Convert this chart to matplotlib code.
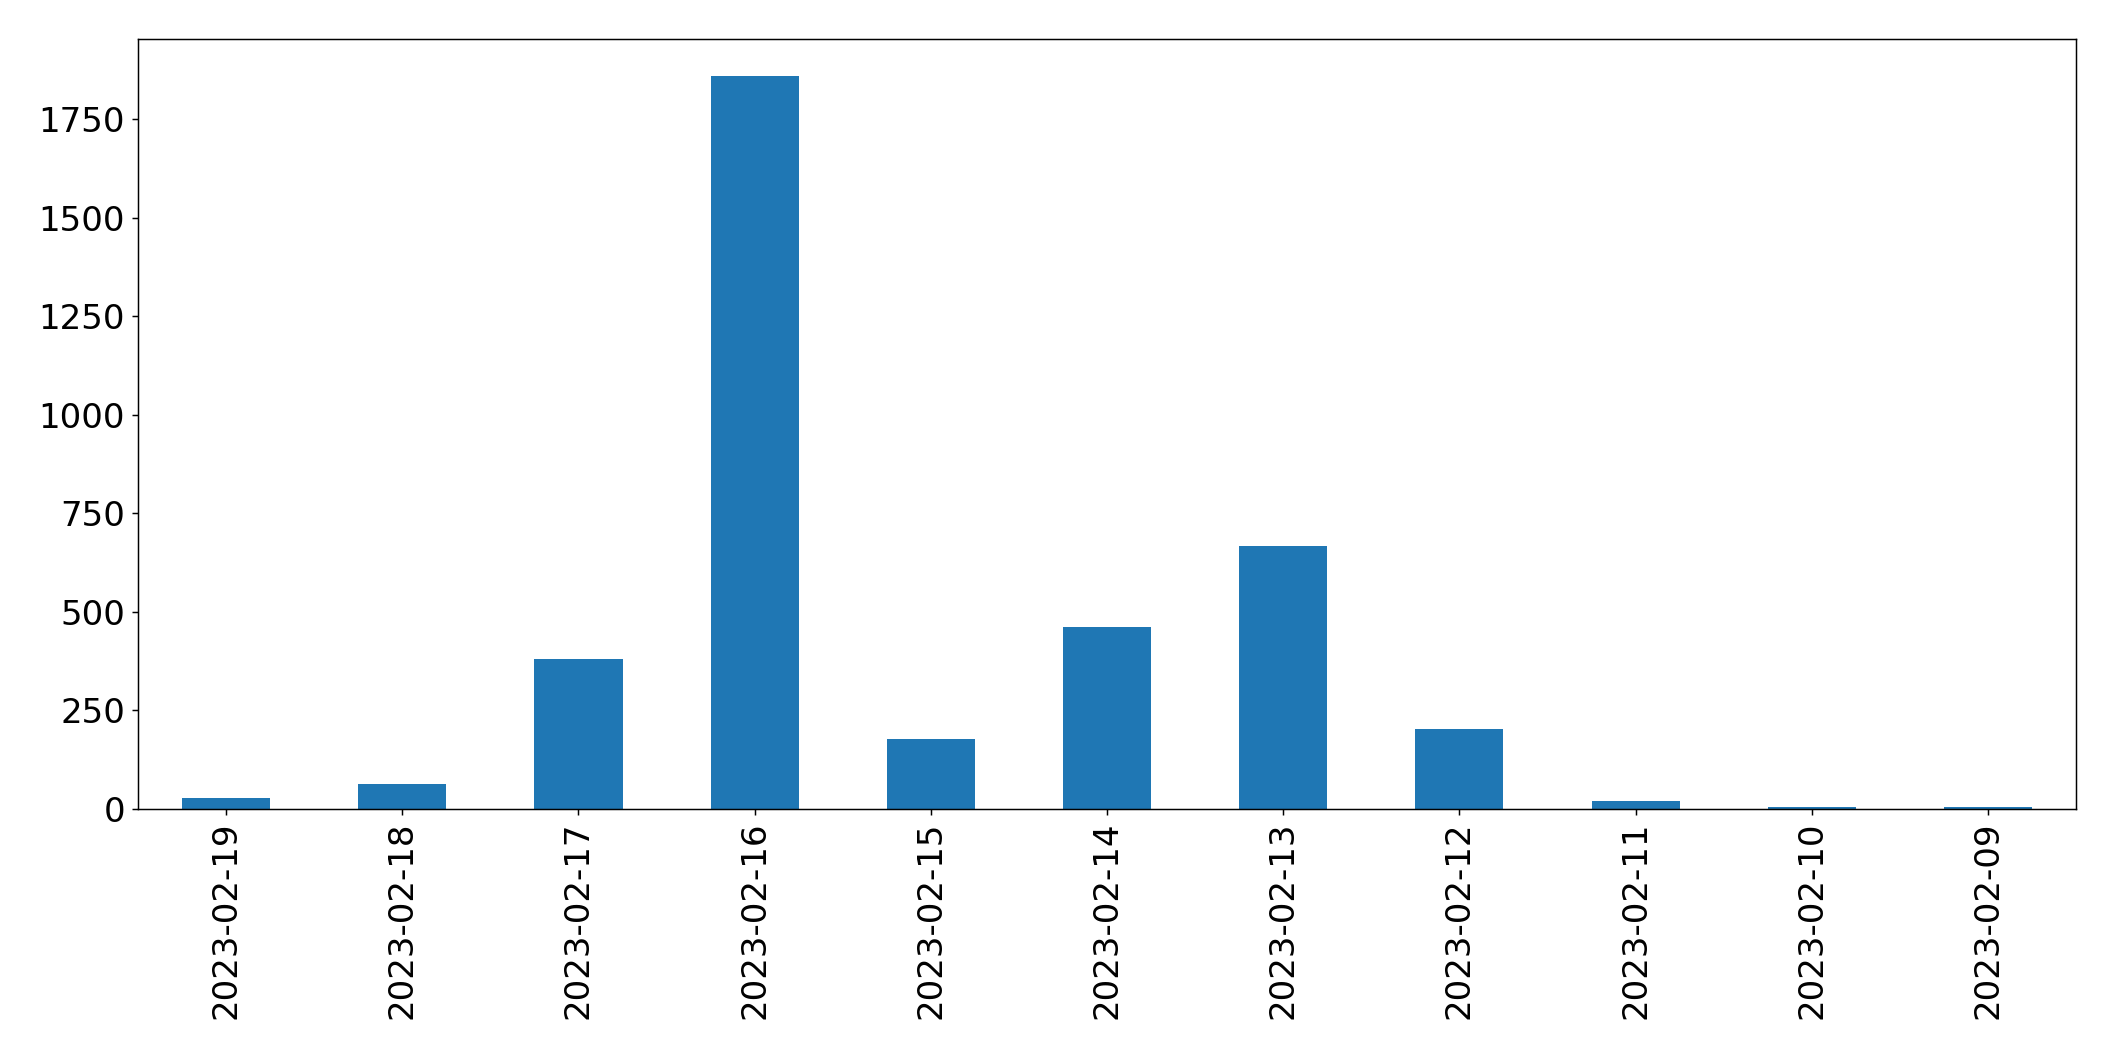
import matplotlib
matplotlib.use("Agg")
import matplotlib.pyplot as plt

dates = ["2023-02-19", "2023-02-18", "2023-02-17", "2023-02-16", "2023-02-15",
         "2023-02-14", "2023-02-13", "2023-02-12", "2023-02-11", "2023-02-10",
         "2023-02-09"]
counts = [28, 64, 380, 1860, 178, 462, 668, 202, 20, 5, 5]

S = 1.33
plt.rcParams['font.family'] = ['DejaVu Sans']
fig = plt.figure(figsize=(21.15, 10.61), dpi=100)
ax = fig.add_axes([138/2115, 1 - 809/1061, (2076-138)/2115, (809-39)/1061])
x = list(range(len(dates)))
ax.bar(x, counts, width=0.5, color="#1f77b4")
ax.set_xlim(-0.5, len(dates) - 0.5)
ax.set_ylim(0, max(counts) * 1.05)
ax.set_xticks(x)
ax.set_xticklabels(dates, rotation=90)
ax.set_yticks([0, 250, 500, 750, 1000, 1250, 1500, 1750])
ax.tick_params(labelsize=24.5, length=3.5*S, width=0.8*S, pad=3.5*S)
for sp in ax.spines.values():
    sp.set_linewidth(0.8*S)
fig.savefig("out.png", dpi=100)
